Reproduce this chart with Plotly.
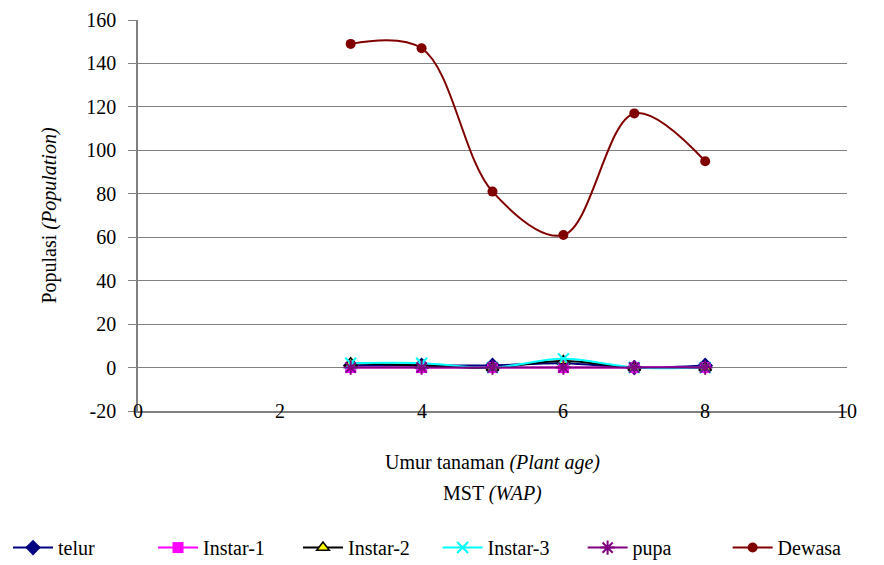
import plotly.graph_objects as go

weeks = [3, 4, 5, 6, 7, 8]
telur = [1, 1, 1, 2, 0, 1]
instar1 = [0, 0, 0, 0, 0, 0]
instar2 = [2, 1, 0, 3, 0, 0]
instar3 = [2, 2, 0, 4, 0, 0]
pupa = [0, 0, 0, 0, 0, 0]
dewasa = [149, 147, 81, 61, 117, 95]
x_ticks = [0, 2, 4, 6, 8, 10]
y_ticks = [-20, 0, 20, 40, 60, 80, 100, 120, 140, 160]

FONT = "Liberation Serif, Times New Roman, serif"
FS = 20

series = [
    ("telur", telur, "#000080", dict(symbol="diamond", size=12, color="#000080"), "legend"),
    ("Instar-1", instar1, "#FF00FF", dict(symbol="square", size=11, color="#FF00FF"), "legend"),
    ("Instar-2", instar2, "#000000", dict(symbol="triangle-up", size=11, color="#FFFF00", line=dict(color="#000000", width=1.5)), "legend"),
    ("Instar-3", instar3, "#00FFFF", dict(symbol="x-thin-open", size=11, color="#00FFFF", line=dict(color="#00FFFF", width=2)), "legend2"),
    ("pupa", pupa, "#800080", dict(symbol="asterisk-open", size=12, color="#800080", line=dict(color="#800080", width=2)), "legend2"),
    ("Dewasa", dewasa, "#800000", dict(symbol="circle", size=10, color="#800000"), "legend2"),
]

fig = go.Figure()
for name, vals, col, mk, lg in series:
    fig.add_trace(go.Scatter(
        x=weeks, y=vals, name=name, mode="lines+markers", legend=lg,
        line=dict(color=col, width=2, shape="spline", smoothing=1.0),
        marker=mk,
    ))

annotations = [
    dict(x=t, y=y_ticks[0], xref="x", yref="y", text=str(t), showarrow=False,
         font=dict(family=FONT, size=FS, color="black"), xanchor="center", yanchor="middle")
    for t in x_ticks
]
annotations += [
    dict(x=0.5, y=0, xref="paper", yref="paper", yshift=-51, showarrow=False,
         text="Umur tanaman <i>(Plant age)</i>", font=dict(family=FONT, size=FS, color="black"),
         xanchor="center", yanchor="middle"),
    dict(x=0.5, y=0, xref="paper", yref="paper", yshift=-82, showarrow=False,
         text="MST <i>(WAP)</i>", font=dict(family=FONT, size=FS, color="black"),
         xanchor="center", yanchor="middle"),
]

legend_common = dict(orientation="h", xanchor="left", y=0.045, yanchor="middle",
                     xref="container", yref="container", bgcolor="rgba(0,0,0,0)",
                     font=dict(family=FONT, size=FS), tracegroupgap=0, itemwidth=40,
                     entrywidth=90)

fig.update_layout(
    width=884, height=565,
    margin=dict(l=130, r=45, t=12, b=162, autoexpand=False),
    paper_bgcolor="white", plot_bgcolor="white",
    font=dict(family=FONT, size=FS, color="black"),
    showlegend=True,
    legend=dict(x=-0.006, **legend_common),
    legend2=dict(x=0.486, **legend_common),
    annotations=annotations,
    xaxis=dict(range=[0, 10], showticklabels=False, showgrid=False,
               zeroline=False, showline=True, linecolor="#808080", linewidth=1.5,
               ticks="", fixedrange=True, automargin=False),
    yaxis=dict(range=[-20, 160], tickmode="array", tickvals=y_ticks,
               ticktext=[str(v) for v in y_ticks], ticklabeloverflow="allow",
               showgrid=True, gridcolor="#808080",
               gridwidth=1, zeroline=False, showline=True, linecolor="#808080", linewidth=1.5,
               ticks="outside", ticklen=8, tickcolor="#808080", ticklabelstandoff=8,
               tickfont=dict(family=FONT, size=FS), automargin=False,
               title=dict(text="Populasi <i>(Population)</i>", font=dict(family=FONT, size=FS),
                          standoff=24)),
)

fig.write_html("out.html")
